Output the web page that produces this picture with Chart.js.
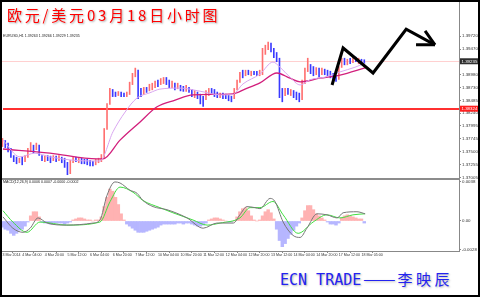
<!DOCTYPE html>
<html><head><meta charset="utf-8">
<script src="https://cdn.jsdelivr.net/npm/chart.js@4.4.1/dist/chart.umd.min.js"></script>
<style>
html,body{margin:0;padding:0;background:#fff;}
#wrap{position:relative;width:480px;height:297px;overflow:hidden;background:#fff;}
#c1{position:absolute;left:0;top:0;}
#c2{position:absolute;left:0;top:180px;}
#sep{position:absolute;left:0;top:178px;width:460px;height:2px;background:#8c8c8c;}
#title{position:absolute;left:7px;top:7px;font-family:"Noto Sans CJK SC";font-size:15px;line-height:15px;letter-spacing:2.8px;color:#f00;text-shadow:1px 1px 2px rgba(0,0,0,.35);white-space:nowrap;}
.tiny{position:absolute;font-family:"Liberation Sans";font-size:8px;line-height:8px;color:#222;white-space:nowrap;transform-origin:0 50%;transform:scale(.45);}
#foot{position:absolute;left:280px;top:271px;line-height:15px;color:#2323f0;white-space:nowrap;text-shadow:1px 1px 2px rgba(0,0,0,.3);}
#foot .en{font-family:"DejaVu Sans Mono";font-size:15px;}
#foot .dash{display:inline-block;font-family:"Noto Sans CJK SC";font-size:15px;transform:scaleX(1.3);transform-origin:0 50%;margin-right:9px;margin-left:2px;}
#foot .cn{font-family:"Noto Sans CJK SC";font-size:15px;letter-spacing:3.5px;}
.frame{position:absolute;left:0;top:0;width:480px;height:297px;box-sizing:border-box;border:2px solid #000;pointer-events:none;}
</style></head>
<body><div id="wrap">
<canvas id="c1" width="480" height="180"></canvas>
<canvas id="c2" width="480" height="85"></canvas>
<div id="sep"></div>
<div id="title">欧元/美元03月18日小时图</div>
<div class="tiny" style="left:3px;top:32px;">EURUSD,H1  1.39263 1.39266 1.39229 1.39235</div>
<div class="tiny" style="left:3px;top:178px;">MACD(12,26,9) 0.0006 0.0007 -0.0000 -0.0002</div>
<div id="foot"><span class="en">ECN TRADE</span><span class="dash">——</span><span class="cn">李映辰</span></div>
<div class="frame"></div>
</div>
<script>
// ---- data (2-hour slots) ----
const candleHigh = [1.3776,1.3772,1.3767,1.3757,1.3743,1.3740,1.3738,1.3740,1.3743,1.3757,
1.3768,1.3763,1.3767,1.3763,1.3743,1.3742,1.3743,1.3742,1.3743,1.3742,
1.3743,1.3740,1.3738,1.3730,1.3734,1.3740,1.3740,1.3738,1.3738,1.3736,
1.3736,1.3734,1.3732,1.3736,1.3738,1.3745,1.3795,1.3843,1.3872,1.3870,
1.3865,1.3866,1.3865,1.3863,1.3865,1.3884,1.3901,1.3911,1.3907,1.3872,
1.3874,1.3874,1.3880,1.3882,1.3886,1.3888,1.3891,1.3893,1.3893,1.3888,
1.3886,1.3882,1.3882,1.3878,1.3876,1.3878,1.3874,1.3870,1.3868,1.3865,
1.3861,1.3857,1.3868,1.3872,1.3872,1.3870,1.3865,1.3863,1.3863,1.3861,
1.3859,1.3857,1.3872,1.3888,1.3903,1.3907,1.3907,1.3907,1.3905,1.3905,
1.3905,1.3907,1.3949,1.3955,1.3961,1.3959,1.3949,1.3941,1.3930,1.3872,
1.3872,1.3872,1.3870,1.3868,1.3865,1.3863,1.3888,1.3911,1.3930,1.3918,
1.3914,1.3912,1.3911,1.3911,1.3909,1.3907,1.3905,1.3901,1.3897,1.3914,
1.3930,1.3930,1.3928,1.3930,1.3932,1.3932,1.3930,1.3928,1.3927];
const candleLow = [1.3759,1.3757,1.3749,1.3738,1.3730,1.3726,1.3728,1.3724,1.3730,1.3738,
1.3749,1.3747,1.3753,1.3742,1.3732,1.3730,1.3732,1.3728,1.3732,1.3730,
1.3732,1.3728,1.3719,1.3705,1.3707,1.3728,1.3730,1.3728,1.3726,1.3726,
1.3724,1.3722,1.3722,1.3724,1.3728,1.3730,1.3738,1.3792,1.3840,1.3855,
1.3855,1.3857,1.3855,1.3855,1.3855,1.3859,1.3878,1.3893,1.3851,1.3855,
1.3859,1.3863,1.3866,1.3868,1.3872,1.3874,1.3878,1.3880,1.3878,1.3872,
1.3872,1.3868,1.3870,1.3866,1.3865,1.3865,1.3863,1.3855,1.3853,1.3851,
1.3841,1.3836,1.3849,1.3857,1.3859,1.3855,1.3853,1.3853,1.3851,1.3851,
1.3847,1.3845,1.3851,1.3868,1.3882,1.3891,1.3895,1.3897,1.3895,1.3897,
1.3895,1.3895,1.3897,1.3936,1.3945,1.3941,1.3930,1.3922,1.3853,1.3845,
1.3857,1.3859,1.3857,1.3853,1.3849,1.3845,1.3849,1.3880,1.3903,1.3899,
1.3895,1.3897,1.3893,1.3897,1.3897,1.3895,1.3891,1.3888,1.3884,1.3888,
1.3911,1.3916,1.3916,1.3918,1.3920,1.3922,1.3918,1.3916,1.3918];
const candleDir = "udddd duduu ududd uddud udddu ududd ddduu uuuud duddu uuudd uduuu duudd ududd uddud dduud ddudd dduuu dudud duuuu ddddd ududd duuud dudud ddddu ududu dudd";

const lilacSlots  = [0.2,6.2,11.5,16.8,23.9,31,34.5,39.1,43.4,47.6,52.2,55.7,62.8,69.9,77,81.2,85.1,91.1,95.7,98.2,101.7,105.3,108.8,114.1,119.4,124.7,128.3];
const lilacPrices = [1.3772,1.3740,1.3747,1.3740,1.3734,1.3732,1.3732,1.3788,1.3826,1.3853,1.3863,1.3870,1.3872,1.3866,1.3859,1.3859,1.3880,1.3899,1.3922,1.3912,1.3893,1.3878,1.3888,1.3893,1.3903,1.3912,1.3920];
const magentaSlots  = [0.2,16.8,33.5,35.6,41.6,48.7,54.7,61.1,67.4,81.6,85.8,91.1,97.1,101.7,105.3,112.3,119.4,128.3];
const magentaPrices = [1.3755,1.3747,1.3736,1.3736,1.3772,1.3807,1.3836,1.3849,1.3859,1.3861,1.3870,1.3882,1.3901,1.3891,1.3884,1.3891,1.3897,1.3911];

const macdHist = [-0.0006,-0.0008,-0.0009,-0.0012,-0.0014,-0.0012,-0.0009,-0.0008,-0.0005,-0.0001,
0.0005,0.0009,0.0009,0.0004,-0.0001,-0.0002,-0.0002,-0.0003,-0.0002,-0.0002,
-0.0002,-0.0002,-0.0003,-0.0002,-0.0001,0.0001,0.0002,0.0003,0.0003,0.0002,
0.0001,0.0001,0,0.0001,0.0001,0.0004,0.0014,0.0023,0.0031,0.0029,
0.0023,0.0016,0.0007,0.0001,-0.0003,-0.0005,-0.0007,-0.0009,-0.0011,-0.0011,
-0.0011,-0.0010,-0.0009,-0.0008,-0.0007,-0.0006,-0.0004,-0.0003,-0.0003,-0.0003,
-0.0003,-0.0003,-0.0002,-0.0002,-0.0003,-0.0002,-0.0002,-0.0003,-0.0004,-0.0005,
-0.0005,-0.0004,-0.0002,0.0001,0.0002,0.0003,0.0003,0.0002,0.0001,0,
-0.0001,-0.0001,0,0.0004,0.0009,0.0012,0.0013,0.0010,0.0005,0.0001,
0,0.0001,0.0005,0.0009,0.0011,0.0008,0.0002,-0.0008,-0.0019,-0.0025,
-0.0022,-0.0017,-0.0013,-0.0009,-0.0005,-0.0002,0.0003,0.0010,0.0015,0.0015,
0.0011,0.0007,0.0005,0.0003,0.0001,-0.0001,-0.0003,-0.0003,-0.0004,-0.0002,
0.0003,0.0005,0.0006,0.0005,0.0004,0.0003,0.0002,0.0002,-0.0002];
const macdSlots = [0.2,3.7,7.3,9.8,12.6,15.8,22.8,32,34.5,37,39.8,41.6,45.1,47.6,49.7,53.3,58.2,65.3,71,75.9,81.7,84,86.5,89.3,91.1,94.7,96.4,99.3,102.8,105.3,107.7,111.3,114.8,118.4,120.5,125.4,128.3];
const macdLine  = [0.0004,-0.0007,-0.0011,-0.0007,0.0003,-0.0002,-0.0004,-0.0002,0.0001,0.0025,0.0038,0.0037,0.0030,0.0027,0.0020,0.0014,0.0011,0.0003,-0.0007,-0.0002,-0.0002,0.0006,0.0014,0.0013,0.0012,0.0022,0.0019,-0.0001,-0.0014,-0.0016,-0.0007,0.0007,0.0006,0.0003,0.0008,0.0009,0.0007];
const signalSlots = [0.2,3.7,8.7,13.3,22.8,34.5,38.1,41.6,46.2,49.7,55.7,60.3,67.4,72.4,77,84,87.6,91.1,95.7,99.3,104.6,109.9,114.8,119.4,124,128.3];
const signalLine  = [0.0010,-0.0001,-0.0011,-0.0001,-0.0004,-0.0001,0.0019,0.0033,0.0028,0.0020,0.0013,0.0008,0.0001,-0.0004,-0.0002,0.0003,0.0013,0.0013,0.0019,0.0006,-0.0012,-0.0001,0.0006,0.0003,0.0006,0.0007];

const tickSlots  = [0,7,15,23,31,39,47,55,63,71,79,87,95,103,111,119,127];
const tickLabels = ["3 Mar 2014","4 Mar 04:00","4 Mar 20:00","5 Mar 12:00","6 Mar 04:00","6 Mar 20:00","7 Mar 12:00","10 Mar 04:00","10 Mar 20:00","11 Mar 12:00","12 Mar 04:00","12 Mar 20:00","13 Mar 12:00","14 Mar 04:00","14 Mar 20:00","17 Mar 12:00","18 Mar 05:00"];
const priceTicks = [1.37005,1.37255,1.37500,1.37745,1.37995,1.38240,1.38485,1.38730,1.38980,1.39470,1.39720];
const macdTicks = [0.0038,0,-0.0028];
const macdTickLabels = ["0.0038","0.00","-0.0028"];
const currentPrice = 1.39235;
const supportLevel = 1.38324;
const arrowSlots  = [116.6,120.5,131.1,142.8,153.0];
const arrowPrices = [1.3878,1.3949,1.3901,1.3985,1.3955];
const headSlots  = [146.3,149.5];
const headPrices = [1.3955,1.3982];

// ---- layout constants ----
const NSLOTS = 162;
const dirs = candleDir.replace(/ /g,'').split('');
const tickFontY = {family:'Liberation Sans', size:4.4};
const tickFontX = {family:'Liberation Sans', size:3.6};

function xScale(show){
  return {type:'linear', min:-0.5, max:NSLOTS-0.5, offset:false, bounds:'data', display:show,
    afterBuildTicks:s=>{s.ticks = tickSlots.map(v=>({value:v}));},
    afterFit:s=>{ if(show){s.height=14;} s.paddingLeft=0; s.paddingRight=0; },
    ticks:{autoSkip:false, maxRotation:0, minRotation:0, align:'start', padding:0, font:tickFontX, color:'#333',
      callback:(v)=>{const k=tickSlots.indexOf(v); return k<0?'':tickLabels[k];}},
    grid:{drawOnChartArea:false, tickLength:2, color:'#888'},
    border:{display:true, color:'#888'}};
}
function yScale(min,max,ticks,labelFn){
  return {position:'right', min:min, max:max, bounds:'data',
    afterBuildTicks:s=>{s.ticks = ticks.map(v=>({value:v}));},
    afterFit:s=>{s.width=21; s.paddingTop=0; s.paddingBottom=0;},
    ticks:{autoSkip:false, padding:1, font:tickFontY, color:'#333', callback:labelFn},
    grid:{drawOnChartArea:false, tickLength:2, color:'#888'},
    border:{display:true, color:'#888'}};
}

const overlay1 = {
  id:'overlay1',
  beforeDatasetsDraw(chart){
    const {ctx, chartArea:a, scales:{y}} = chart;
    ctx.save();
    let yy = Math.round(y.getPixelForValue(currentPrice))+0.5;
    ctx.strokeStyle='#ffd0d0'; ctx.lineWidth=1;
    ctx.beginPath(); ctx.moveTo(a.left,yy); ctx.lineTo(a.right,yy); ctx.stroke();
    yy = Math.round(y.getPixelForValue(supportLevel));
    ctx.strokeStyle='#ff3030'; ctx.lineWidth=2;
    ctx.beginPath(); ctx.moveTo(a.left+2,yy); ctx.lineTo(a.right,yy); ctx.stroke();
    ctx.restore();
  },
  afterDraw(chart){
    const {ctx, scales:{x,y}, chartArea:a} = chart;
    ctx.save();
    ctx.strokeStyle='#000'; ctx.lineWidth=3; ctx.lineJoin='miter'; ctx.lineCap='butt';
    ctx.beginPath();
    arrowSlots.forEach((s,i)=>{const px=x.getPixelForValue(s), py=y.getPixelForValue(arrowPrices[i]); if(i) ctx.lineTo(px,py); else ctx.moveTo(px,py);});
    ctx.stroke();
    const tx=x.getPixelForValue(arrowSlots[arrowSlots.length-1]), ty=y.getPixelForValue(arrowPrices[arrowPrices.length-1]);
    ctx.beginPath();
    headSlots.forEach((s,i)=>{ctx.moveTo(tx,ty); ctx.lineTo(x.getPixelForValue(s), y.getPixelForValue(headPrices[i]));});
    ctx.stroke();
    const box=(v,bg)=>{
      const yy=y.getPixelForValue(v);
      ctx.fillStyle=bg; ctx.fillRect(a.right+1, yy-3, 18, 6);
      ctx.fillStyle='#fff'; ctx.font='4.4px "Liberation Sans"'; ctx.textBaseline='middle'; ctx.textAlign='left';
      ctx.fillText(v.toFixed(5), a.right+2.5, yy+0.3);
    };
    box(currentPrice,'#2e2e2e');
    box(supportLevel,'#ff2020');
    ctx.restore();
  }
};

new Chart(document.getElementById('c1'), {
  type:'bar',
  data:{datasets:[
    {type:'line', data:lilacSlots.map((s,i)=>({x:s,y:lilacPrices[i]})), borderColor:'#d9a6f0', borderWidth:1, pointRadius:0, cubicInterpolationMode:'monotone', order:0},
    {type:'line', data:magentaSlots.map((s,i)=>({x:s,y:magentaPrices[i]})), borderColor:'#d21f7c', borderWidth:1.3, pointRadius:0, cubicInterpolationMode:'monotone', order:0},
    {type:'bar', data:candleHigh.map((h,i)=>({x:i,y:[candleLow[i],h]})), backgroundColor:dirs.map(d=>d==='u'?'#ff7070':'#3a3aff'), borderWidth:0, barPercentage:0.58, categoryPercentage:1, order:1}
  ]},
  options:{responsive:false, animation:false, devicePixelRatio:1,
    layout:{padding:{left:1,right:0,top:2,bottom:1}},
    plugins:{legend:{display:false}, tooltip:{enabled:false}},
    scales:{x:xScale(false), y:yScale(1.36974,1.40373,priceTicks,(v)=>v.toFixed(5))}},
  plugins:[overlay1]
});

new Chart(document.getElementById('c2'), {
  type:'bar',
  data:{datasets:[
    {type:'line', data:macdSlots.map((s,i)=>({x:s,y:macdLine[i]})), borderColor:'#777', borderWidth:1, pointRadius:0, cubicInterpolationMode:'monotone', order:0},
    {type:'line', data:signalSlots.map((s,i)=>({x:s,y:signalLine[i]})), borderColor:'#3fdf3f', borderWidth:1, pointRadius:0, cubicInterpolationMode:'monotone', order:0},
    {type:'bar', data:macdHist.map((v,i)=>({x:i,y:v})), backgroundColor:macdHist.map(v=>v>=0?'#ffb2b2':'#b6b6ff'), borderWidth:0, barPercentage:1, categoryPercentage:1, order:1}
  ]},
  options:{responsive:false, animation:false, devicePixelRatio:1,
    layout:{padding:{left:1,right:0,top:0,bottom:0}},
    plugins:{legend:{display:false}, tooltip:{enabled:false}},
    scales:{x:xScale(true), y:yScale(-0.00292,0.00399,macdTicks,(v)=>{const k=macdTicks.indexOf(v);return k<0?'':macdTickLabels[k];})}}
});
</script>
</body></html>
